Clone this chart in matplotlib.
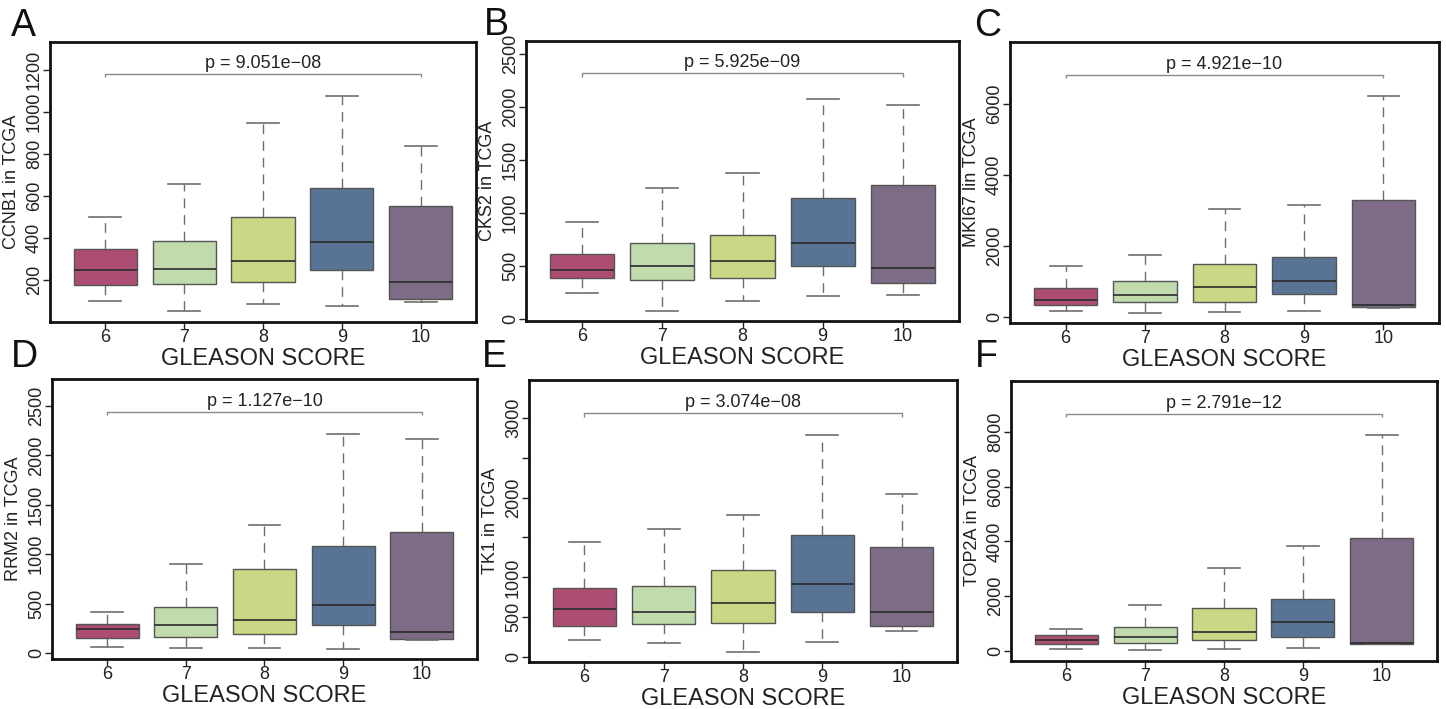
import matplotlib
matplotlib.use("Agg")
import matplotlib.pyplot as plt

plt.rcParams['font.family'] = ['Liberation Sans', 'DejaVu Sans']

# ---------------- data ----------------
groups = ['6', '7', '8', '9', '10']
box_colors = ['#ae4d73', '#c1dbac', '#c8d884', '#587394', '#7e6b86']

# CCNB1 (A)
ccnb1_low = [102, 54, 84, 78, 97]
ccnb1_q1 = [175, 181, 192, 249, 111]
ccnb1_med = [248, 252, 289, 379, 192]
ccnb1_q3 = [346, 384, 500, 640, 551]
ccnb1_high = [498, 655, 946, 1075, 840]

# CKS2 (B)
cks2_low = [245, 82, 172, 223, 229]
cks2_q1 = [386, 367, 386, 505, 342]
cks2_med = [461, 498, 552, 718, 480]
cks2_q3 = [611, 721, 790, 1141, 1260]
cks2_high = [918, 1238, 1379, 2069, 2019]

# MKI67 (C)
mki67_low = [159, 103, 131, 159, 263]
mki67_q1 = [328, 422, 432, 657, 281]
mki67_med = [478, 619, 854, 1013, 338]
mki67_q3 = [826, 1004, 1482, 1698, 3293]
mki67_high = [1426, 1754, 3039, 3152, 6210]

# RRM2 (D)
rrm2_low = [64, 51, 47, 40, 135]
rrm2_q1 = [152, 165, 195, 286, 142]
rrm2_med = [243, 286, 334, 489, 212]
rrm2_q3 = [293, 462, 849, 1078, 1223]
rrm2_high = [414, 900, 1297, 2217, 2170]

# TK1 (E)
tk1_low = [218, 180, 59, 188, 331]
tk1_q1 = [389, 410, 423, 569, 385]
tk1_med = [598, 569, 682, 921, 561]
tk1_q3 = [862, 895, 1088, 1527, 1377]
tk1_high = [1439, 1603, 1778, 2787, 2050]

# TOP2A (F)
top2a_low = [61, 24, 85, 97, 243]
top2a_q1 = [243, 280, 389, 523, 267]
top2a_med = [413, 498, 681, 1046, 292]
top2a_q3 = [571, 863, 1581, 1884, 4134]
top2a_high = [790, 1666, 3027, 3830, 7891]

ylabels = ['CCNB1 in TCGA', 'CKS2 in TCGA', 'MKI67 lin TCGA',
           'RRM2 in TCGA', 'TK1 in TCGA', 'TOP2A in TCGA']
p_texts = ['p = 9.051e\u221208', 'p = 5.925e\u221209', 'p = 4.921e\u221210',
           'p = 1.127e\u221210', 'p = 3.074e\u221208', 'p = 2.791e\u221212']
bracket_y = [1181, 2313, 6820, 2443, 3059, 8669]
panel_letters = ['A', 'B', 'C', 'D', 'E', 'F']

yticks_list = [
    [200, 400, 600, 800, 1000, 1200],
    [0, 500, 1000, 1500, 2000, 2500],
    [0, 2000, 4000, 6000],
    [0, 500, 1000, 1500, 2000, 2500],
    [0, 500, 1000, 1500, 2000, 2500, 3000],
    [0, 2000, 4000, 6000, 8000],
]
yticklabels_list = [
    ['200', '400', '600', '800', '1000', '1200'],
    ['0', '500', '1000', '1500', '2000', '2500'],
    ['0', '2000', '4000', '6000'],
    ['0', '500', '1000', '1500', '2000', '2500'],
    ['0', '500', '1000', '', '2000', '', '3000'],
    ['0', '2000', '4000', '6000', '8000'],
]
ylims = [(0, 1333), (-16, 2618), (-169, 7739), (-61, 2773), (-63, 3477), (-365, 9860)]

all_data = [
    (ccnb1_low, ccnb1_q1, ccnb1_med, ccnb1_q3, ccnb1_high),
    (cks2_low, cks2_q1, cks2_med, cks2_q3, cks2_high),
    (mki67_low, mki67_q1, mki67_med, mki67_q3, mki67_high),
    (rrm2_low, rrm2_q1, rrm2_med, rrm2_q3, rrm2_high),
    (tk1_low, tk1_q1, tk1_med, tk1_q3, tk1_high),
    (top2a_low, top2a_q1, top2a_med, top2a_q3, top2a_high),
]

# ---------------- layout ----------------
W, H = 1446, 709
axes_px = [(50, 42, 476, 322), (526, 41, 959, 321), (1010, 42, 1439, 323),
           (52, 379, 477, 659), (529, 380, 957, 662), (1011, 381, 1437, 661)]
letter_px = [(11, 36), (484, 35), (974, 36), (11, 367), (482, 367), (975, 367)]

fig = plt.figure(figsize=(W / 100, H / 100), dpi=100)
fig.patch.set_facecolor('white')

for i in range(6):
    x0, y0, x1, y1 = axes_px[i]
    ax = fig.add_axes([x0 / W, 1 - y1 / H, (x1 - x0) / W, (y1 - y0) / H])
    low, q1, med, q3, high = all_data[i]
    stats = []
    for j in range(5):
        stats.append(dict(whislo=low[j], q1=q1[j], med=med[j], q3=q3[j],
                          whishi=high[j], fliers=[], label=groups[j]))
    bp = ax.bxp(stats, positions=list(range(1, 6)), widths=0.8,
                capwidths=0.4, patch_artist=True, showfliers=False,
                boxprops=dict(edgecolor='#555555', linewidth=1.0),
                whiskerprops=dict(color='#6e6e6e', linewidth=1.0,
                                  linestyle=(0, (7, 5))),
                capprops=dict(color='#6e6e6e', linewidth=1.2),
                medianprops=dict(color='#2b2b2b', linewidth=1.2))
    for patch, c in zip(bp['boxes'], box_colors):
        patch.set_facecolor(c)
    for wl in bp['whiskers']:
        wl.set_zorder(1)

    ax.set_xlim(0.3, 5.7)
    ax.set_ylim(*ylims[i])
    ax.set_xticks(list(range(1, 6)))
    ax.set_xticklabels(groups)
    ax.set_yticks(yticks_list[i])
    ax.set_yticklabels(yticklabels_list[i], rotation=90, va='center')

    for sp in ax.spines.values():
        sp.set_linewidth(2.0)
        sp.set_color('#111111')
    ax.tick_params(axis='both', length=5, width=1.0, color='#222222',
                   labelsize=13, labelcolor='#222222')
    ax.tick_params(axis='x', pad=0)
    ax.tick_params(axis='y', pad=0)

    ax.set_xlabel('GLEASON SCORE', fontsize=17, color='#222222')
    ax.xaxis.set_label_coords(0.5, -0.092)
    ax.set_ylabel(ylabels[i], fontsize=13, color='#222222')
    ax.yaxis.set_label_coords(-30 / (x1 - x0), 0.5)

    # significance bracket
    by = bracket_y[i]
    drop = 0.012 * (ylims[i][1] - ylims[i][0])
    ax.plot([1, 1, 5, 5], [by - drop, by, by, by - drop], color='#8a8a8a',
            linewidth=1.0, solid_capstyle='butt')
    ax.annotate(p_texts[i], xy=(3, by), xytext=(0, 1.5),
                textcoords='offset points', ha='center', va='bottom',
                fontsize=13, color='#222222')

    lx, ly = letter_px[i]
    fig.text(lx / W, 1 - ly / H, panel_letters[i], fontsize=27,
             ha='left', va='baseline', color='#111111')

fig.savefig('out.png', dpi=100, facecolor='white')
